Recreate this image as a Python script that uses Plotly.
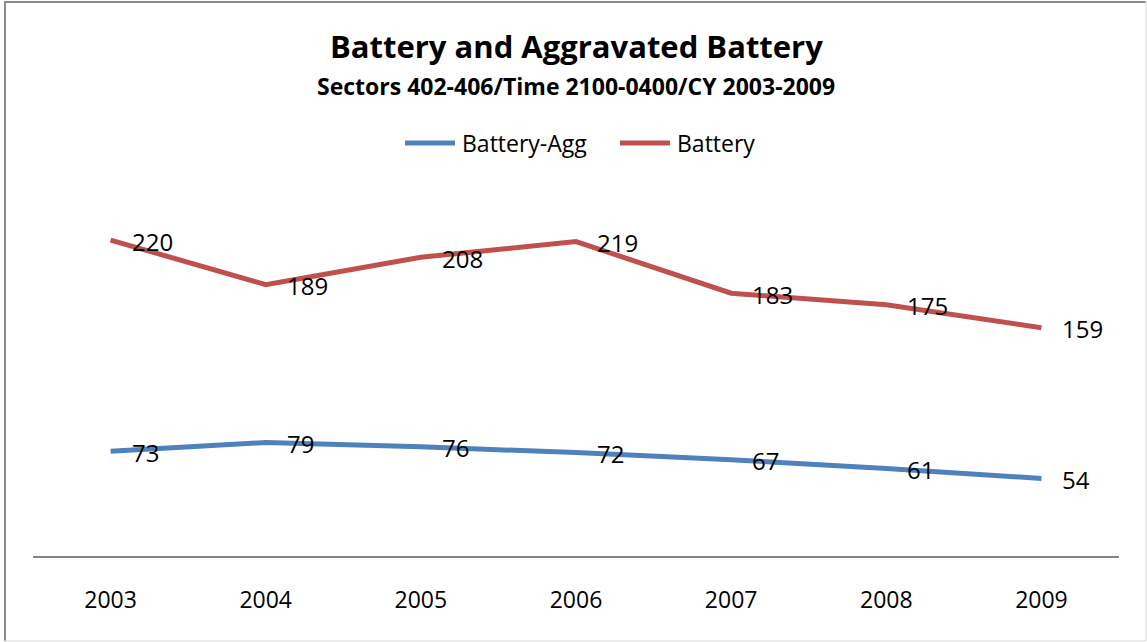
import plotly.graph_objects as go

years = ["2003", "2004", "2005", "2006", "2007", "2008", "2009"]
battery_agg = [73, 79, 76, 72, 67, 61, 54]
battery = [220, 189, 208, 219, 183, 175, 159]
series_names = ["Battery-Agg", "Battery"]

title_text = "Battery and Aggravated Battery"
subtitle_text = "Sectors 402-406/Time 2100-0400/CY 2003-2009"

BLUE = "#4F81BD"
RED = "#C0504D"
FONT = "Open Sans"

W, H = 1147, 642
ml, mr, mt, mb = 33, 28, 197, 86
pw = W - ml - mr
ph = H - mt - mb

fig = go.Figure()
fig.add_trace(go.Scatter(x=years, y=battery_agg, name=series_names[0], mode="lines",
                         line=dict(color=BLUE, width=5)))
fig.add_trace(go.Scatter(x=years, y=battery, name=series_names[1], mode="lines",
                         line=dict(color=RED, width=5)))

def px_to_paper_x(px):
    return (px - ml) / pw

def px_to_paper_y(py):
    return (H - mb - py) / ph

annotations = []
for series in (battery_agg, battery):
    for i, v in enumerate(series):
        annotations.append(dict(x=i, y=v, xref="x", yref="y", text=str(v),
                                showarrow=False, xanchor="left", yanchor="middle",
                                xshift=19, yshift=-1,
                                font=dict(family=FONT, size=24, color="#000")))

annotations.append(dict(x=0.5, y=px_to_paper_y(46), xref="paper", yref="paper",
                        text="<b>" + title_text + "</b>", showarrow=False,
                        xanchor="center", yanchor="middle",
                        font=dict(family=FONT, size=31, color="#000")))
annotations.append(dict(x=0.5, y=px_to_paper_y(86), xref="paper", yref="paper",
                        text="<b>" + subtitle_text + "</b>", showarrow=False,
                        xanchor="center", yanchor="middle",
                        font=dict(family=FONT, size=23, color="#000")))

# custom legend
legend_items = [(series_names[0], BLUE, 405, 455, 460), (series_names[1], RED, 620, 670, 675)]
shapes = []
for name, col, x0, x1, tx in legend_items:
    shapes.append(dict(type="line", xref="paper", yref="paper",
                       x0=px_to_paper_x(x0), x1=px_to_paper_x(x1),
                       y0=px_to_paper_y(143), y1=px_to_paper_y(143),
                       line=dict(color=col, width=5)))
    annotations.append(dict(x=px_to_paper_x(tx), y=px_to_paper_y(143), xref="paper", yref="paper",
                            text=name, showarrow=False, xanchor="left", yanchor="middle",
                            font=dict(family=FONT, size=23, color="#000")))

shapes += [
    dict(type="line", xref="paper", yref="paper", x0=px_to_paper_x(5), x1=px_to_paper_x(5),
         y0=px_to_paper_y(1), y1=px_to_paper_y(641), line=dict(color="#8a8a8a", width=2)),
    dict(type="line", xref="paper", yref="paper", x0=px_to_paper_x(4), x1=px_to_paper_x(1146),
         y0=px_to_paper_y(2), y1=px_to_paper_y(2), line=dict(color="#8a8a8a", width=2)),
    dict(type="line", xref="paper", yref="paper", x0=px_to_paper_x(1146), x1=px_to_paper_x(1146),
         y0=px_to_paper_y(1), y1=px_to_paper_y(641), line=dict(color="#d9d9d9", width=1)),
    dict(type="line", xref="paper", yref="paper", x0=px_to_paper_x(4), x1=px_to_paper_x(1146),
         y0=px_to_paper_y(641), y1=px_to_paper_y(641), line=dict(color="#d9d9d9", width=1)),
]

fig.update_layout(
    width=W, height=H,
    margin=dict(l=ml, r=mr, t=mt, b=mb),
    paper_bgcolor="white", plot_bgcolor="white",
    showlegend=False,
    annotations=annotations,
    shapes=shapes,
    font=dict(family=FONT, color="#000"),
)
fig.update_xaxes(type="category", range=[-0.5, len(years) - 0.5], showline=True,
                 linecolor="#868686", linewidth=2,
                 showgrid=False, zeroline=False, ticks="", ticklabelstandoff=22,
                 tickfont=dict(family=FONT, size=23, color="#000"))
fig.update_yaxes(range=[0, 250], visible=False, showgrid=False, zeroline=False)

fig.write_html("out.html")
